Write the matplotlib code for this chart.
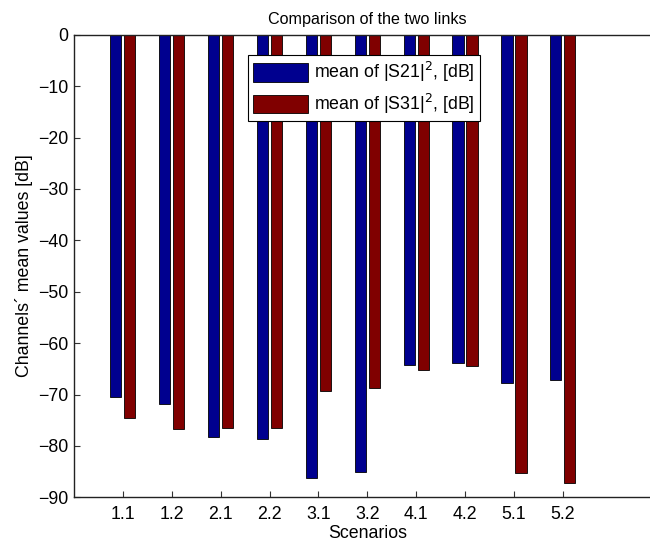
import numpy as np
import matplotlib
matplotlib.use('Agg')
import matplotlib.pyplot as plt

plt.rcParams['font.family'] = ['Liberation Sans', 'DejaVu Sans']
plt.rcParams['font.size'] = 12.8

#DATA
scenarios = ['1.1', '1.2', '2.1', '2.2', '3.1', '3.2', '4.1', '4.2', '5.1', '5.2']
s21 = [-70.5, -71.8, -78.2, -78.6, -86.3, -85.0, -64.3, -63.9, -67.7, -67.1]
s31 = [-74.6, -76.8, -76.6, -76.6, -69.4, -68.8, -65.3, -64.4, -85.3, -87.3]
########

x = np.arange(1, len(scenarios) + 1)
w = 0.229   # matlab grouped bar width for 2 series
off = 0.143

fig = plt.figure(figsize=(6.5, 5.45), dpi=100)
# axes runs a bit past the right edge, like the cropped original
ax = fig.add_axes([74/650, 1 - 497.3/545, (660.6 - 74)/650, (497.3 - 34.7)/545])

ax.bar(x - off, s21, w, color='#00008f', edgecolor='black', linewidth=0.6,
       label='mean of |S21|$^2$, [dB]')
ax.bar(x + off, s31, w, color='#800000', edgecolor='black', linewidth=0.6,
       label='mean of |S31|$^2$, [dB]')

ax.set_xlim(0, 12)
ax.set_ylim(-90, 0)
ax.set_xticks(x)
ax.set_xticklabels(scenarios)
ax.set_yticks(np.arange(-90, 1, 10))
ax.set_yticklabels(['\u2212%d' % -v if v < 0 else '0' for v in range(-90, 1, 10)])
ax.tick_params(direction='in', length=4, width=0.8, color='#333333')
ax.tick_params(axis='x', pad=6)
ax.tick_params(axis='y', pad=4)
for s in ['left', 'top', 'bottom']:
    ax.spines[s].set_linewidth(1.0)
    ax.spines[s].set_color('#222222')
ax.spines['right'].set_visible(False)

ax.set_title('Comparison of the two links', pad=8, fontsize=11.6)
ax.set_xlabel('Scenarios', labelpad=2)
ax.set_ylabel('Channels\u00b4 mean values [dB]', labelpad=4)

leg = ax.legend(loc='upper left', bbox_to_anchor=(248/650, 1 - 55/545),
                bbox_transform=fig.transFigure, fancybox=False, framealpha=1,
                edgecolor='black', handlelength=3.1, handleheight=1.24,
                borderpad=0.3, labelspacing=0.42, handletextpad=0.3,
                borderaxespad=0)
leg.get_frame().set_linewidth(0.8)

fig.savefig('out.png', dpi=100)
